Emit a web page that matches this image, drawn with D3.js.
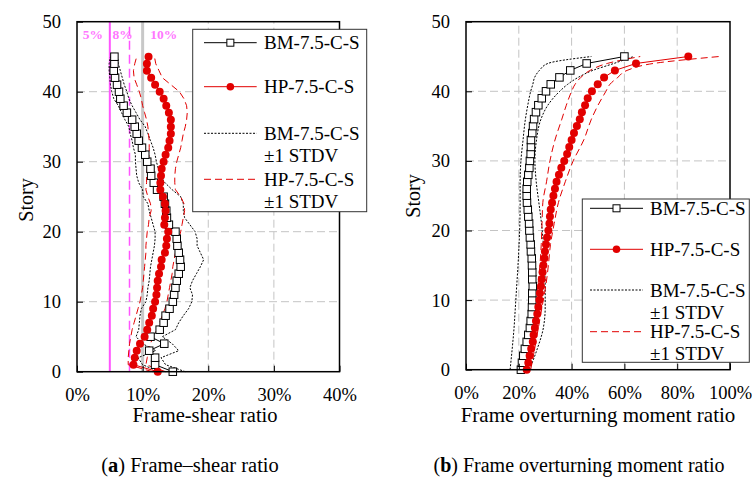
<!DOCTYPE html>
<html>
<head>
<meta charset="utf-8">
<script src="https://cdn.jsdelivr.net/npm/d3@7"></script>
<style>
  body { margin: 0; background: #fff; }
  text { font-family: "Liberation Serif", "Times New Roman", serif; fill: #000; }
</style>
</head>
<body>
<script>
// stories, bottom to top
var stories = [0, 1, 2, 3, 4, 5, 6, 7, 8, 9, 10, 11, 12, 13, 14, 15, 16, 17, 18, 19, 20, 21, 22,
  23, 24, 25, 26, 27, 28, 29, 30, 31, 32, 33, 34, 35, 36, 37, 38, 39, 40, 41, 42, 43, 44, 45];

// (a) frame-shear ratio, %
var shearBM = [14.6, 11.9, 11.9, 11.0, 13.3, 11.2, 12.6, 13.2, 13.5, 14.1, 14.6, 14.8, 15.0, 15.2, 15.5,
  15.8, 15.7, 15.5, 15.3, 15.2, 15.0, 14.0, 13.7, 13.6, 13.4, 13.2, 12.2, 11.7, 11.3, 11.2, 10.7, 10.4,
  9.9, 9.4, 9.1, 8.8, 8.4, 7.6, 7.1, 6.6, 6.4, 6.1, 5.8, 5.6, 5.7, 5.7];
var shearHP = [12.3, 8.6, 8.8, 9.1, 9.6, 10.3, 10.7, 11.0, 11.4, 11.6, 11.9, 12.1, 12.2, 12.3, 12.5,
  12.8, 12.9, 13.4, 13.6, 13.7, 13.9, 13.3, 13.4, 13.5, 13.4, 13.1, 12.7, 12.7, 12.8, 12.9, 13.2, 13.5,
  13.9, 14.1, 14.3, 14.3, 14.3, 14.0, 13.6, 13.2, 12.6, 11.9, 11.3, 10.65, 10.65, 10.9];
var shearBMlo = [12.5, 10.0, 9.3, 12.0, 10.0, 9.0, 9.4, 9.5, 9.6, 9.8, 10.5, 10.7, 10.8, 11.0, 11.1,
  11.2, 11.4, 11.6, 11.8, 11.9, 11.9, 11.6, 11.3, 11.0, 10.8, 10.1, 10.0, 9.4, 9.1, 9.0, 8.9, 8.9,
  8.6, 8.4, 8.1, 7.9, 7.3, 6.8, 6.3, 5.6, 5.3, 5.1, 5.0, 4.9, 4.9, 5.1];
var shearBMhi = [16.5, 13.5, 12.8, 15.5, 14.5, 13.0, 15.0, 15.5, 16.2, 17.0, 17.5, 17.6, 17.2, 17.6, 18.2,
  18.8, 19.3, 18.8, 18.3, 18.3, 18.0, 17.2, 16.4, 16.2, 16.2, 15.8, 14.5, 13.4, 12.7, 12.4, 12.1, 11.9,
  11.6, 11.2, 10.8, 10.4, 9.6, 9.0, 8.4, 7.9, 7.6, 7.2, 6.9, 6.6, 6.3, 6.1];
var shearHPlo = [11.5, 7.8, 7.8, 7.9, 8.0, 8.2, 8.4, 8.7, 9.0, 9.3, 9.6, 9.8, 10.0, 10.1, 10.2,
  10.3, 10.4, 10.5, 10.5, 10.6, 10.7, 10.9, 11.0, 11.3, 11.2, 10.8, 10.5, 10.6, 10.6, 10.7, 10.8, 11.0,
  11.0, 11.0, 10.9, 10.8, 10.6, 10.3, 10.0, 9.8, 9.5, 9.1, 8.7, 8.6, 8.8, 9.1];
var shearHPhi = [13.5, 10.5, 10.7, 10.9, 11.2, 11.6, 12.2, 12.6, 13.0, 13.4, 13.7, 13.9, 14.1, 14.3, 14.5,
  14.6, 14.8, 15.0, 15.2, 15.5, 15.8, 16.0, 16.2, 16.4, 16.3, 15.8, 15.0, 14.9, 14.9, 15.0, 15.2, 15.5,
  15.8, 16.0, 16.2, 16.5, 16.7, 16.8, 16.7, 16.3, 15.6, 14.3, 13.0, 12.5, 12.0, 11.8];
var shearLimits = [5, 8, 10];
var shearLimitLabels = ["5%", "8%", "10%"];

// (b) frame overturning moment ratio, %
var otmBM = [20.8, 21.2, 21.7, 22.3, 23.0, 23.6, 24.2, 24.5, 24.9, 25.0, 25.1, 25.1, 25.3, 25.1, 25.1,
  25.0, 24.9, 24.6, 24.5, 24.2, 24.0, 23.9, 23.6, 23.4, 23.1, 23.0, 23.0, 23.2, 23.6, 24.0, 24.2, 24.5,
  24.6, 24.6, 25.1, 25.4, 25.8, 26.5, 27.4, 28.7, 30.3, 32.1, 35.4, 39.5, 45.7, 60.0];
var otmHP = [23.0, 23.6, 24.1, 24.7, 25.3, 25.6, 26.1, 26.5, 27.0, 27.4, 27.8, 28.0, 28.4, 28.7, 29.0,
  29.3, 29.7, 29.9, 30.3, 30.7, 31.2, 31.6, 31.8, 32.1, 32.6, 33.1, 33.7, 34.3, 35.2, 36.1, 37.2, 38.3,
  39.1, 40.0, 40.9, 42.0, 43.1, 43.9, 45.1, 46.1, 47.7, 49.9, 52.3, 56.4, 64.4, 84.2];
var otmStdvStories = [0, 3, 6, 9, 12, 15, 18, 21, 24, 27, 30, 33, 36, 38, 40, 41, 42, 43, 44, 45];
var otmBMlo = [16.7, 17.5, 18.2, 18.7, 19.2, 19.7, 20.1, 20.4, 20.5, 20.5, 20.8, 21.6, 22.5, 23.4, 24.5, 25.3, 26.0, 27.8, 31.0, 47.5];
var otmBMhi = [24.0, 27.0, 29.3, 30.0, 30.0, 29.7, 29.3, 28.6, 27.6, 26.6, 26.1, 26.7, 28.4, 31.0, 35.5, 38.5, 42.5, 48.0, 56.0, 63.5];
var otmHPlo = [21.7, 23.5, 24.9, 26.0, 27.2, 28.0, 28.5, 28.8, 29.1, 30.5, 31.8, 33.7, 36.3, 38.0, 40.0, 41.3, 43.5, 47.0, 53.5, 66.0];
var otmHPhi = [24.5, 26.0, 27.4, 28.8, 30.2, 31.2, 32.0, 33.4, 35.0, 37.6, 40.6, 44.6, 47.5, 50.0, 53.0, 54.5, 57.5, 61.0, 71.0, 96.0];

var storyTicks = [0, 10, 20, 30, 40, 50];
var shearTicks = [0, 10, 20, 30, 40];
var otmTicks = [0, 20, 40, 60, 80, 100];
var legendLabels = [["BM-7.5-C-S"], ["HP-7.5-C-S"], ["BM-7.5-C-S", "\u00b11 STDV"], ["HP-7.5-C-S", "\u00b11 STDV"]];

var red = "#e20000";
var gridColor = "#c4c4c4";
var limitColor = "#ff55ff";

var svg = d3.select("body")
  .append("svg")
  .attr("width", 752)
  .attr("height", 477);

svg.append("rect").attr("width", 752).attr("height", 477).attr("fill", "#fff");

// scales
var xA = d3.scaleLinear().domain([0, 40]).range([77, 339.5]);
var yA = d3.scaleLinear().domain([0, 50]).range([371.7, 21.7]);
var xB = d3.scaleLinear().domain([0, 100]).range([466, 730]);
var yB = d3.scaleLinear().domain([0, 50]).range([369.7, 21.7]);

function drawGrid(x, y, xGrid) {
  var g = svg.append("g");
  g.selectAll(".gx").data(xGrid).enter().append("line")
    .attr("x1", d => x(d)).attr("x2", d => x(d))
    .attr("y1", y.range()[0]).attr("y2", y.range()[1])
    .attr("stroke", gridColor).attr("stroke-width", 1).attr("stroke-dasharray", "8,4");
  g.selectAll(".gy").data([10, 20, 30, 40]).enter().append("line")
    .attr("x1", x.range()[0]).attr("x2", x.range()[1])
    .attr("y1", d => y(d)).attr("y2", d => y(d))
    .attr("stroke", gridColor).attr("stroke-width", 1).attr("stroke-dasharray", "8,4");
}

function drawAxes(x, y, xTicks) {
  var bottomAxis = d3.axisBottom(x).tickValues(xTicks).tickFormat(d => d + "%")
    .tickSizeInner(-6).tickSizeOuter(0).tickPadding(16);
  var leftAxis = d3.axisLeft(y).tickValues(storyTicks).tickFormat(d3.format("d"))
    .tickSizeInner(-6).tickSizeOuter(0).tickPadding(16);

  var xAxis = svg.append("g")
    .attr("transform", `translate(0, ${y.range()[0]})`)
    .call(bottomAxis);
  var yAxis = svg.append("g")
    .attr("transform", `translate(${x.range()[0]}, 0)`)
    .call(leftAxis);

  [xAxis, yAxis].forEach(function (a) {
    a.select(".domain").remove();
    a.selectAll("line").attr("stroke", "#000");
    a.selectAll("text").attr("font-size", 18.5).attr("fill", "#000")
      .attr("font-family", "Liberation Serif, Times New Roman, serif");
  });

  // plot frame
  svg.append("rect")
    .attr("x", x.range()[0]).attr("y", y.range()[1])
    .attr("width", x.range()[1] - x.range()[0])
    .attr("height", y.range()[0] - y.range()[1])
    .attr("fill", "none").attr("stroke", "#000").attr("stroke-width", 1.5);
}

function drawSeries(x, y, ys, xs, color, dash, width, curve) {
  var line = d3.line()
    .x(d => x(d[0]))
    .y(d => y(d[1]))
    .curve(curve || d3.curveLinear);
  svg.append("path")
    .datum(xs.map((v, i) => [v, ys[i]]))
    .attr("d", line)
    .attr("fill", "none")
    .attr("stroke", color)
    .attr("stroke-width", width)
    .attr("stroke-dasharray", dash);
}

function drawMarkers(x, y, xs, kind, size) {
  var g = svg.append("g");
  if (kind == "square") {
    g.selectAll("rect").data(xs).enter().append("rect")
      .attr("x", d => x(d) - size / 2)
      .attr("y", (d, i) => y(stories[i]) - size / 2)
      .attr("width", size).attr("height", size)
      .attr("fill", "#fff").attr("stroke", "#000").attr("stroke-width", 1);
  } else {
    g.selectAll("circle").data(xs).enter().append("circle")
      .attr("cx", d => x(d))
      .attr("cy", (d, i) => y(stories[i]))
      .attr("r", size)
      .attr("fill", red);
  }
}

function drawLegend(box, rows, lineX0, lineX1, textX) {
  var g = svg.append("g");
  g.append("rect")
    .attr("x", box[0]).attr("y", box[1]).attr("width", box[2]).attr("height", box[3])
    .attr("fill", "#fff").attr("stroke", "#333").attr("stroke-width", 1);
  var styles = [
    { color: "#000", dash: null, marker: "square" },
    { color: red, dash: null, marker: "circle" },
    { color: "#000", dash: "2,1.5", marker: null },
    { color: red, dash: "7,4", marker: null }
  ];
  legendLabels.forEach(function (lab, i) {
    var yy = rows[i];
    var s = styles[i];
    g.append("line")
      .attr("x1", lineX0).attr("x2", lineX1).attr("y1", yy).attr("y2", yy)
      .attr("stroke", s.color).attr("stroke-width", 1).attr("stroke-dasharray", s.dash);
    var mx = (lineX0 + lineX1) / 2;
    if (s.marker == "square") {
      g.append("rect").attr("x", mx - 3.5).attr("y", yy - 3.5).attr("width", 7).attr("height", 7)
        .attr("fill", "#fff").attr("stroke", "#000");
    } else if (s.marker == "circle") {
      g.append("circle").attr("cx", mx).attr("cy", yy).attr("r", 3.8).attr("fill", red);
    }
    lab.forEach(function (t, j) {
      g.append("text")
        .attr("x", textX).attr("y", yy + j * 22).attr("dy", "0.35em")
        .attr("font-size", 19)
        .text(t);
    });
  });
}

// ---------- panel (a) ----------
drawGrid(xA, yA, [20, 30]);

// 10% reference (grey), 8% dashed, 5% solid
svg.append("line")
  .attr("x1", xA(shearLimits[2])).attr("x2", xA(shearLimits[2]))
  .attr("y1", yA(0)).attr("y2", yA(50))
  .attr("stroke", "#c8c8c8").attr("stroke-width", 3);
svg.append("line")
  .attr("x1", xA(shearLimits[1])).attr("x2", xA(shearLimits[1]))
  .attr("y1", yA(0)).attr("y2", yA(50))
  .attr("stroke", limitColor).attr("stroke-width", 1.5).attr("stroke-dasharray", "9,5");
svg.append("line")
  .attr("x1", xA(shearLimits[0])).attr("x2", xA(shearLimits[0]))
  .attr("y1", yA(0)).attr("y2", yA(50))
  .attr("stroke", limitColor).attr("stroke-width", 2);

var limitLabelX = [2.4, 6.95, 13.2];
svg.selectAll(".limitlab").data(shearLimitLabels).enter().append("text")
  .attr("x", (d, i) => xA(limitLabelX[i]))
  .attr("y", 38.5)
  .attr("text-anchor", "middle")
  .attr("font-size", 13.5)
  .attr("font-weight", "bold")
  .style("fill", "#ff77ff")
  .text(d => d);

drawSeries(xA, yA, stories, shearBMlo, "#000", "2,1.5", 1);
drawSeries(xA, yA, stories, shearBMhi, "#000", "2,1.5", 1);
drawSeries(xA, yA, stories, shearHPlo, red, "7,4", 1);
drawSeries(xA, yA, stories, shearHPhi, red, "7,4", 1);
drawSeries(xA, yA, stories, shearBM, "#000", null, 1);
drawSeries(xA, yA, stories, shearHP, red, null, 1);
drawMarkers(xA, yA, shearBM, "square", 7.5);
drawMarkers(xA, yA, shearHP, "circle", 4);
drawAxes(xA, yA, shearTicks);
drawLegend([192.7, 29.3, 174, 182.4], [42.7, 86.7, 133.3, 179.3], 204, 256.7, 264);

// ---------- panel (b) ----------
drawGrid(xB, yB, [20, 40, 60, 80]);
drawSeries(xB, yB, otmStdvStories, otmBMlo, "#000", "2,1.5", 1, d3.curveMonotoneY);
drawSeries(xB, yB, otmStdvStories, otmBMhi, "#000", "2,1.5", 1, d3.curveMonotoneY);
drawSeries(xB, yB, otmStdvStories, otmHPlo, red, "7,4", 1, d3.curveMonotoneY);
drawSeries(xB, yB, otmStdvStories, otmHPhi, red, "7,4", 1, d3.curveMonotoneY);
drawSeries(xB, yB, stories, otmBM, "#000", null, 1);
drawSeries(xB, yB, stories, otmHP, red, null, 1);
drawMarkers(xB, yB, otmBM, "square", 7.5);
drawMarkers(xB, yB, otmHP, "circle", 4);
drawAxes(xB, yB, otmTicks);
drawLegend([582.3, 199, 167, 163.3], [208.3, 249.3, 290, 331.7], 590, 643, 650);

// ---------- axis titles and captions ----------
svg.append("text").attr("transform", "translate(33, 200) rotate(-90)")
  .attr("text-anchor", "middle").attr("font-size", 20).text("Story");
svg.append("text").attr("transform", "translate(420, 196) rotate(-90)")
  .attr("text-anchor", "middle").attr("font-size", 20).text("Story");

svg.append("text").attr("x", 205).attr("y", 422)
  .attr("text-anchor", "middle").attr("font-size", 20.5).text("Frame-shear ratio");
svg.append("text").attr("x", 598).attr("y", 422)
  .attr("text-anchor", "middle").attr("font-size", 21).text("Frame overturning moment ratio");

var capA = svg.append("text").attr("x", 190).attr("y", 472)
  .attr("text-anchor", "middle").attr("font-size", 20.5);
capA.append("tspan").text("(");
capA.append("tspan").attr("font-weight", "bold").text("a");
capA.append("tspan").text(") Frame\u2013shear ratio");

var capB = svg.append("text").attr("x", 579).attr("y", 472)
  .attr("text-anchor", "middle").attr("font-size", 20);
capB.append("tspan").text("(");
capB.append("tspan").attr("font-weight", "bold").text("b");
capB.append("tspan").text(") Frame overturning moment ratio");
</script>
</body>
</html>
